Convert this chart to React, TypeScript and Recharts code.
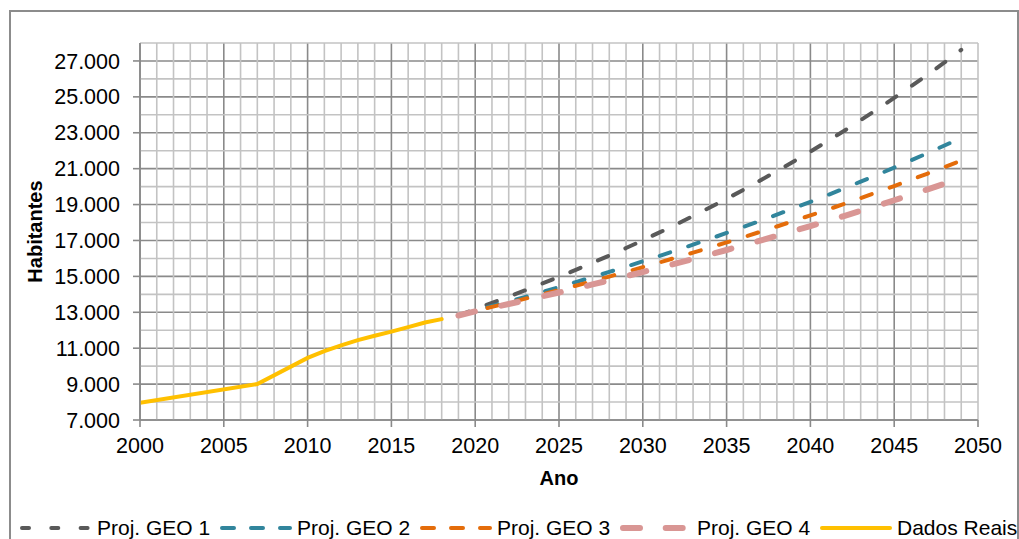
import { CartesianGrid, Line, LineChart, ReferenceLine, XAxis, YAxis } from 'recharts';

const FONT = '"Liberation Sans", Arial, sans-serif';

// Dados reais (censos e estimativas)
const realYears = [2000, 2007, 2010, 2011, 2012, 2013, 2014, 2015, 2016, 2017, 2018];
const realValues = [7960, 9000, 10460, 10840, 11160, 11450, 11690, 11920, 12170, 12430, 12620];

// Projeções geométricas, 2019-2049
const projYears = [
  2019, 2020, 2021, 2022, 2023, 2024, 2025, 2026, 2027, 2028, 2029, 2030, 2031, 2032, 2033, 2034,
  2035, 2036, 2037, 2038, 2039, 2040, 2041, 2042, 2043, 2044, 2045, 2046, 2047, 2048, 2049,
];
const geo1 = [
  12820, 13180, 13520, 13870, 14230, 14600, 14970, 15360, 15760, 16160, 16580, 17010, 17450, 17900,
  18360, 18840, 19320, 19820, 20340, 20860, 21400, 21950, 22520, 23100, 23700, 24310, 24940, 25580,
  26240, 26920, 27620,
];
const geo2 = [
  12820, 13100, 13350, 13600, 13860, 14130, 14400, 14680, 14960, 15250, 15540, 15840, 16140, 16450,
  16770, 17090, 17420, 17750, 18090, 18440, 18790, 19150, 19520, 19890, 20280, 20660, 21060, 21460,
  21870, 22290, 22720,
];
const geo3 = [
  12820, 13070, 13300, 13530, 13760, 14000, 14240, 14480, 14730, 14990, 15250, 15510, 15780, 16050,
  16320, 16610, 16890, 17180, 17480, 17780, 18090, 18400, 18710, 19030, 19360, 19700, 20030, 20380,
  20730, 21090, 21450,
];
const geo4 = [
  12820, 13050, 13260, 13460, 13670, 13890, 14100, 14320, 14550, 14780, 15010, 15240, 15480, 15720,
  15970, 16220, 16470, 16730, 16990, 17260, 17530, 17800, 18080, 18360, 18650, 18940, 19240, 19540,
  19850, 20160, 20470,
];

const xTicks = [2000, 2005, 2010, 2015, 2020, 2025, 2030, 2035, 2040, 2045, 2050];
const yTicks = [7000, 9000, 11000, 13000, 15000, 17000, 19000, 21000, 23000, 25000, 27000];
const majorXGrid = [2000, 2005, 2010, 2015, 2020, 2025, 2030, 2035, 2040, 2045];
const minorXTicks = Array.from({ length: 51 }, (_, i) => 2000 + i).filter((y) => !majorXGrid.includes(y));
const minorYTicks = Array.from({ length: 22 }, (_, i) => 7000 + i * 1000).filter((v) => !yTicks.includes(v));

const series = [
  { key: 'geo1', name: 'Proj. GEO 1', color: '#595959', width: 4, dash: '11 19', legendDash: '7 22.3' },
  { key: 'geo2', name: 'Proj. GEO 2', color: '#31859C', width: 4, dash: '11 19', legendDash: '12 17' },
  { key: 'geo3', name: 'Proj. GEO 3', color: '#E46C0A', width: 4, dash: '11 19', legendDash: '12 17' },
  { key: 'geo4', name: 'Proj. GEO 4', color: '#D99694', width: 6, dash: '17 27', legendDash: '17 25.7' },
  { key: 'real', name: 'Dados Reais', color: '#FFC000', width: 4, dash: undefined, legendDash: undefined },
];

const allYears = Array.from(new Set([...realYears, ...projYears])).sort((a, b) => a - b);
const data = allYears.map((year) => {
  const row: Record<string, number | undefined> = { year };
  const ri = realYears.indexOf(year);
  if (ri >= 0) row.real = realValues[ri];
  const pi = projYears.indexOf(year);
  if (pi >= 0) {
    row.geo1 = geo1[pi];
    row.geo2 = geo2[pi];
    row.geo3 = geo3[pi];
    row.geo4 = geo4[pi];
  }
  return row;
});

const fmt = (v: number) => String(v).replace(/\B(?=(\d{3})+(?!\d))/g, '.');

function ChartLegend() {
  return (
    <div
      style={{
        position: 'absolute',
        left: 18,
        top: 516,
        display: 'flex',
        fontFamily: FONT,
        fontSize: 21,
        color: '#000',
        lineHeight: '24px',
      }}
    >
      {series.map((s) => (
        <div key={s.key} style={{ display: 'flex', alignItems: 'center', width: 200 }}>
          <svg width={76} height={14} style={{ display: 'block' }}>
            <line
              x1={s.width / 2 + 2}
              x2={74 - s.width / 2}
              y1={7}
              y2={7}
              stroke={s.color}
              strokeWidth={s.width}
              strokeDasharray={s.legendDash}
              strokeLinecap="round"
            />
          </svg>
          <span style={{ marginLeft: 3, whiteSpace: 'nowrap' }}>{s.name}</span>
        </div>
      ))}
    </div>
  );
}

export default function App() {
  return (
    <div style={{ position: 'absolute', left: 0, top: 0, width: 1019, height: 539, overflow: 'hidden', background: '#fff' }}>
      <div
        style={{
          position: 'absolute',
          left: 9,
          top: 10,
          width: 1010,
          height: 545,
          boxSizing: 'border-box',
          border: '2px solid #8c8c8c',
        }}
      />
      <div style={{ position: 'absolute', left: 0, top: 0 }}>
        <LineChart width={1019} height={539} data={data} margin={{ top: 43, right: 41, left: 30, bottom: 49 }}>
          <XAxis
            dataKey="year"
            type="number"
            domain={[2000, 2050]}
            ticks={xTicks}
            interval={0}
            allowDataOverflow
            stroke="#8a8a8a"
            strokeWidth={1.6}
            tickSize={7}
            tickMargin={11}
            tick={{ fill: '#000', fontSize: 21.5, fontFamily: FONT }}
            height={70}
            label={{ value: 'Ano', position: 'insideBottom', offset: 5, fill: '#000', fontSize: 20, fontWeight: 'bold', fontFamily: FONT }}
          />
          <YAxis
            type="number"
            domain={[7000, 28000]}
            ticks={yTicks}
            interval={0}
            allowDataOverflow
            tickFormatter={fmt}
            stroke="#8a8a8a"
            strokeWidth={1.6}
            tickSize={7}
            tickMargin={13}
            width={110}
            tick={{ fill: '#000', fontSize: 21.5, fontFamily: FONT }}
            label={{ value: 'Habitantes', angle: -90, position: 'insideLeft', offset: 5, fill: '#000', fontSize: 20, fontWeight: 'bold', fontFamily: FONT, style: { textAnchor: 'middle' } }}
          />
          <CartesianGrid
            stroke="#8a8a8a"
            strokeWidth={1.6}
            verticalValues={majorXGrid}
            horizontalValues={yTicks}
          />
          {minorXTicks.map((x) => (
            <ReferenceLine key={`vx${x}`} x={x} stroke="#c3c3c3" strokeWidth={1.6} />
          ))}
          {minorYTicks.map((y) => (
            <ReferenceLine key={`hy${y}`} y={y} stroke="#c3c3c3" strokeWidth={1.6} />
          ))}
          {series.map((s) => (
            <Line
              key={s.key}
              dataKey={s.key}
              name={s.name}
              type="linear"
              stroke={s.color}
              strokeWidth={s.width}
              strokeDasharray={s.dash}
              strokeLinecap="round"
              dot={false}
              activeDot={false}
              isAnimationActive={false}
            />
          ))}
        </LineChart>
      </div>
      <ChartLegend />
    </div>
  );
}
